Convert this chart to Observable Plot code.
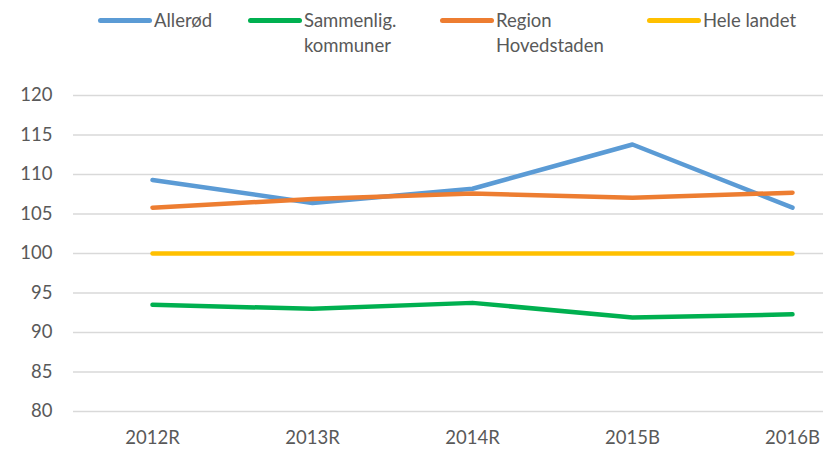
<!DOCTYPE html>
<html>
<head>
<meta charset="utf-8">
<script src="https://cdn.jsdelivr.net/npm/d3@7"></script>
<script src="https://cdn.jsdelivr.net/npm/@observablehq/plot@0.6"></script>
<style>
  html, body { margin: 0; padding: 0; background: #fff; }
  #wrap { width: 823px; height: 462px; position: relative; overflow: hidden;
          font-family: Lato, "Open Sans", sans-serif; color: #595959; }
  #legend { position: relative; height: 70px; }
  .item { position: absolute; top: 8px; display: flex; align-items: flex-start; font-size: 18.5px; line-height: 25px; }
  .sw { width: 54px; height: 5px; border-radius: 3px; margin-top: 10px; margin-right: 2px; flex: none; }
</style>
</head>
<body>
<div id="wrap">
  <div id="legend"></div>
  <div id="chart"></div>
</div>
<script>
const categories = ["2012R", "2013R", "2014R", "2015B", "2016B"];
const seriesNames = ["Allerød", "Sammenlig.\nkommuner", "Region\nHovedstaden", "Hele landet"];
const colors = ["#5B9BD5", "#00B050", "#ED7D31", "#FFC000"];
const allerod = [109.3, 106.4, 108.2, 113.8, 105.8];
const sammenlig = [93.5, 93.0, 93.75, 91.9, 92.3];
const region = [105.8, 106.9, 107.6, 107.05, 107.7];
const heleLandet = [100, 100, 100, 100, 100];
const yTicks = [80, 85, 90, 95, 100, 105, 110, 115, 120];
const legendLeft = [98, 248, 440, 647];

const seriesValues = [allerod, sammenlig, region, heleLandet];
const rows = [];
seriesValues.forEach((vals, si) => {
  vals.forEach((v, i) => rows.push({series: seriesNames[si], cat: categories[i], value: v}));
});

// Legend
const legend = document.getElementById("legend");
seriesNames.forEach((name, i) => {
  const it = document.createElement("div");
  it.className = "item";
  it.style.left = legendLeft[i] + "px";
  const sw = document.createElement("div");
  sw.className = "sw";
  sw.style.background = colors[i];
  const tx = document.createElement("div");
  tx.style.whiteSpace = "pre";
  tx.textContent = name;
  it.appendChild(sw);
  it.appendChild(tx);
  legend.appendChild(it);
});

const plot = Plot.plot({
  width: 823,
  height: 392,
  marginTop: 25,
  marginBottom: 51,
  marginLeft: 73,
  marginRight: 0,
  style: {fontFamily: 'Lato, "Open Sans", sans-serif', fontSize: "18.5px", color: "#595959", background: "white"},
  x: {type: "point", domain: categories, range: [151, 792], padding: 0, label: null},
  y: {domain: [80, 120], label: null},
  color: {domain: seriesNames, range: colors},
  marks: [
    Plot.ruleY(yTicks, {stroke: "#d9d9d9", strokeWidth: 1.5}),
    Plot.axisY({ticks: yTicks, tickSize: 0, tickPadding: 21, label: null, fill: "#595959"}),
    Plot.axisX({tickSize: 0, tickPadding: 19, label: null, fill: "#595959"}),
    Plot.line(rows, {x: "cat", y: "value", z: "series", stroke: "series", strokeWidth: 4.5, strokeLinecap: "round", strokeLinejoin: "round"})
  ]
});
document.getElementById("chart").appendChild(plot);
</script>
</body>
</html>
